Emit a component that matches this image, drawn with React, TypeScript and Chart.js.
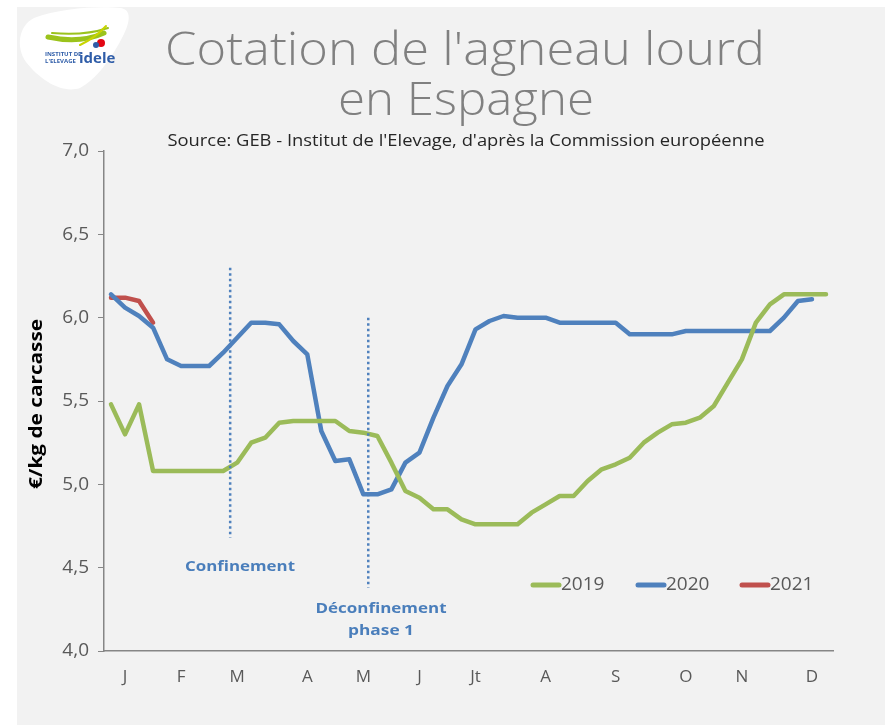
import React, { useEffect, useRef } from 'react';
import { Chart, registerables } from 'chart.js';

Chart.register(...registerables);

const TITLE_LINES = ["Cotation de l'agneau lourd", 'en Espagne'];
const SOURCE_TEXT = "Source: GEB - Institut de l'Elevage, d'après la Commission européenne";
const Y_AXIS_TITLE = '€/kg de carcasse';

const WEEK_COUNT = 52;
const MONTH_LABELS = ['J', 'F', 'M', 'A', 'M', 'J', 'Jt', 'A', 'S', 'O', 'N', 'D'];
const MONTH_WEEKS = [1, 5, 9, 14, 18, 22, 26, 31, 36, 41, 45, 50];

const SERIES_NAMES = ['2019', '2020', '2021'];
const SERIES_COLORS = ['#9bbb59', '#4f81bd', '#c0504d'];

const VALUES_2019 = [
  5.48, 5.3, 5.48, 5.08, 5.08, 5.08, 5.08, 5.08, 5.08, 5.13, 5.25, 5.28, 5.37,
  5.38, 5.38, 5.38, 5.38, 5.32, 5.31, 5.29, 5.13, 4.96, 4.92, 4.85, 4.85, 4.79,
  4.76, 4.76, 4.76, 4.76, 4.83, 4.88, 4.93, 4.93, 5.02, 5.09, 5.12, 5.16, 5.25,
  5.31, 5.36, 5.37, 5.4, 5.47, 5.61, 5.75, 5.97, 6.08, 6.14, 6.14, 6.14, 6.14,
];
const VALUES_2020 = [
  6.14, 6.06, 6.01, 5.94, 5.75, 5.71, 5.71, 5.71, 5.79, 5.88, 5.97, 5.97, 5.96,
  5.86, 5.78, 5.32, 5.14, 5.15, 4.94, 4.94, 4.97, 5.13, 5.19, 5.4, 5.59, 5.72,
  5.93, 5.98, 6.01, 6.0, 6.0, 6.0, 5.97, 5.97, 5.97, 5.97, 5.97, 5.9, 5.9,
  5.9, 5.9, 5.92, 5.92, 5.92, 5.92, 5.92, 5.92, 5.92, 6.0, 6.1, 6.11,
];
const VALUES_2021 = [6.12, 6.12, 6.1, 5.97];

const Y_MIN = 4;
const Y_MAX = 7;
const Y_STEP = 0.5;

// Event markers: week position, top value, bottom value
const EVENT_WEEKS = [8.5, 18.35];
const EVENT_TOPS = [6.3, 6.0];
const EVENT_BOTTOMS = [4.68, 4.38];
const EVENT_TEXTS = [['Confinement'], ['Déconfinement', 'phase 1']];

const FONT = "'Open Sans', 'DejaVu Sans', sans-serif";
const TEXT_GREY = '#595959';

const weekLabels = Array.from({ length: WEEK_COUNT }, (_, i) => {
  const k = MONTH_WEEKS.indexOf(i);
  return k >= 0 ? MONTH_LABELS[k] : '';
});

// draw text centred at cx, stretched horizontally to a target width
function fitText(ctx: any, text: string, cx: number, y: number, width: number) {
  const w = ctx.measureText(text).width;
  const s = width / w;
  ctx.save();
  ctx.translate(cx, y);
  ctx.scale(s, 1);
  ctx.textAlign = 'center';
  ctx.fillText(text, 0, 0);
  ctx.restore();
}

const decorPlugin = {
  id: 'decor',
  beforeDraw(chart: any) {
    const ctx = chart.ctx;
    const W = chart.width;
    const H = chart.height;
    ctx.save();
    ctx.fillStyle = '#ffffff';
    ctx.fillRect(0, 0, W, H);
    ctx.fillStyle = '#f2f2f2';
    ctx.fillRect(17, 7, W - 17, H - 7);

    // logo blob
    ctx.fillStyle = '#ffffff';
    ctx.beginPath();
    ctx.moveTo(34, 18);
    ctx.bezierCurveTo(60, 8, 100, 6, 120, 8);
    ctx.bezierCurveTo(132, 9, 130, 22, 124, 34);
    ctx.bezierCurveTo(112, 58, 96, 80, 80, 88);
    ctx.bezierCurveTo(62, 94, 40, 80, 26, 62);
    ctx.bezierCurveTo(16, 48, 18, 26, 34, 18);
    ctx.closePath();
    ctx.fill();
    ctx.strokeStyle = '#9bc31c';
    ctx.lineCap = 'round';
    ctx.lineWidth = 5;
    ctx.beginPath();
    ctx.moveTo(48, 37);
    ctx.quadraticCurveTo(80, 44, 104, 33);
    ctx.stroke();
    ctx.lineWidth = 2;
    ctx.beginPath();
    ctx.moveTo(52, 33);
    ctx.quadraticCurveTo(84, 36, 108, 28);
    ctx.stroke();
    ctx.strokeStyle = '#c8d400';
    ctx.beginPath();
    ctx.moveTo(80, 45);
    ctx.quadraticCurveTo(95, 38, 106, 26);
    ctx.stroke();
    ctx.fillStyle = '#e30613';
    ctx.beginPath();
    ctx.arc(101, 43, 4, 0, Math.PI * 2);
    ctx.fill();
    ctx.fillStyle = '#2f5da8';
    ctx.beginPath();
    ctx.arc(96, 45, 3, 0, Math.PI * 2);
    ctx.fill();
    ctx.fillStyle = '#2f5da8';
    ctx.font = `bold 6px ${FONT}`;
    ctx.textAlign = 'left';
    ctx.textBaseline = 'alphabetic';
    ctx.fillText('INSTITUT DE', 45, 56);
    ctx.fillText("L'ELEVAGE", 45, 63);
    ctx.font = `bold 15px ${FONT}`;
    ctx.fillText('idele', 79, 63);

    // titles
    ctx.fillStyle = '#808080';
    ctx.font = `300 46px ${FONT}`;
    fitText(ctx, TITLE_LINES[0], 465, 65, 600);
    fitText(ctx, TITLE_LINES[1], 466, 115, 256);
    ctx.fillStyle = '#262626';
    ctx.font = `16px ${FONT}`;
    fitText(ctx, SOURCE_TEXT, 466, 146, 597);

    // y axis title
    ctx.save();
    ctx.translate(37, 404);
    ctx.rotate(-Math.PI / 2);
    ctx.fillStyle = '#000000';
    ctx.font = `bold 17px ${FONT}`;
    ctx.textBaseline = 'middle';
    fitText(ctx, Y_AXIS_TITLE, 0, 0, 170);
    ctx.restore();
    ctx.restore();
  },
  afterDatasetsDraw(chart: any) {
    const ctx = chart.ctx;
    const x = chart.scales.x;
    const y = chart.scales.y;
    ctx.save();
    EVENT_WEEKS.forEach((w, i) => {
      const px = x.getPixelForValue(w);
      ctx.strokeStyle = '#4f81bd';
      ctx.lineWidth = 2.5;
      ctx.setLineDash([2.5, 3]);
      ctx.beginPath();
      ctx.moveTo(px, y.getPixelForValue(EVENT_TOPS[i]));
      ctx.lineTo(px, y.getPixelForValue(EVENT_BOTTOMS[i]));
      ctx.stroke();
    });
    ctx.setLineDash([]);
    ctx.fillStyle = '#4a7ebb';
    ctx.font = `bold 15px ${FONT}`;
    ctx.textBaseline = 'middle';
    fitText(ctx, EVENT_TEXTS[0][0], 240, 567, 110);
    fitText(ctx, EVENT_TEXTS[1][0], 381, 609, 131);
    fitText(ctx, EVENT_TEXTS[1][1], 381, 631, 66);

    const legendX = [531, 636, 740];
    ctx.font = `19px ${FONT}`;
    ctx.textAlign = 'left';
    SERIES_NAMES.forEach((name, i) => {
      ctx.strokeStyle = SERIES_COLORS[i];
      ctx.lineWidth = 5;
      ctx.lineCap = 'round';
      ctx.beginPath();
      ctx.moveTo(legendX[i] + 2, 585);
      ctx.lineTo(legendX[i] + 28, 585);
      ctx.stroke();
      ctx.fillStyle = TEXT_GREY;
      ctx.fillText(name, legendX[i] + 30, 585);
    });
    ctx.restore();
  },
};

export default function App() {
  const ref = useRef<HTMLCanvasElement | null>(null);
  useEffect(() => {
    if (!ref.current) return;
    const chart = new Chart(ref.current, {
      type: 'line',
      data: {
        labels: weekLabels,
        datasets: [VALUES_2019, VALUES_2020, VALUES_2021].map((vals, i) => ({
          label: SERIES_NAMES[i],
          data: vals,
          borderColor: SERIES_COLORS[i],
          backgroundColor: SERIES_COLORS[i],
          borderWidth: 4.5,
          pointRadius: 0,
          borderJoinStyle: 'round',
          borderCapStyle: 'round',
          tension: 0,
          fill: false,
        })),
      },
      options: {
        responsive: false,
        animation: false,
        layout: { padding: { left: 0, top: 151, right: 52, bottom: 0 } },
        plugins: {
          legend: { display: false },
          title: { display: false },
          tooltip: { enabled: false },
        },
        scales: {
          x: {
            type: 'category',
            offset: true,
            grid: { display: true, drawOnChartArea: false, drawTicks: false },
            border: { display: true, color: '#868686', width: 1.5 },
            ticks: {
              autoSkip: false,
              maxRotation: 0,
              minRotation: 0,
              padding: 16,
              color: TEXT_GREY,
              font: { family: FONT, size: 17 },
            },
            afterFit(scale: any) {
              scale.height = 74;
            },
          },
          y: {
            min: Y_MIN,
            max: Y_MAX,
            grid: { display: true, drawOnChartArea: false, drawTicks: true, tickLength: 6, color: '#868686' },
            border: { display: true, color: '#868686', width: 1.5 },
            ticks: {
              stepSize: Y_STEP,
              padding: 9,
              color: TEXT_GREY,
              font: { family: FONT, size: 19 },
              callback: (v: any) => Number(v).toFixed(1).replace('.', ','),
            },
            afterFit(scale: any) {
              scale.width = 104;
            },
          },
        },
      },
      plugins: [decorPlugin],
    });
    return () => chart.destroy();
  }, []);
  return (
    <div style={{ position: 'absolute', left: 0, top: 0, width: 885, height: 725 }}>
      <canvas ref={ref} width={885} height={725} style={{ display: 'block' }} />
    </div>
  );
}
